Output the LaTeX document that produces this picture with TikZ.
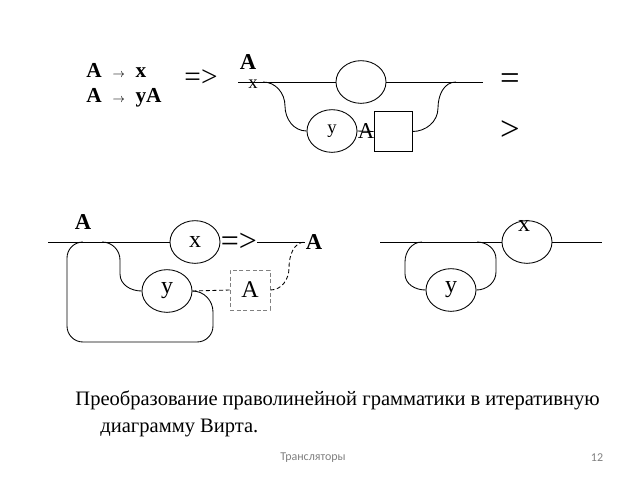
\documentclass[tikz,border=0pt]{standalone}
\usepackage{fontspec}
\setmainfont{Liberation Serif}
\newfontfamily\footfont{Carlito}
\usetikzlibrary{shapes.geometric}
\tikzset{
  term/.style={ellipse,draw,inner sep=0pt,minimum width=37.5pt,minimum height=32pt,
    font=\fontsize{18}{20}\selectfont},
  nterm/.style={draw,inner sep=0pt,minimum width=28.5pt,minimum height=30.5pt},
  boldA/.style={inner sep=0pt,font=\bfseries\fontsize{17}{19}\selectfont},
  rule/.style={anchor=west,inner sep=0pt,font=\bfseries\fontsize{16}{18}\selectfont},
  conv/.style={inner sep=0pt,font=\fontsize{22}{24}\selectfont},
  caption/.style={anchor=west,inner sep=0pt,font=\fontsize{15.4}{17}\selectfont}
}
\begin{document}
\begin{tikzpicture}[x=0.75pt,y=-0.75pt,line width=0.65pt]
  \useasboundingbox (0,0) rectangle (640,480);

  % rules
  \node[rule] (r1) at (86,70) {A\ \ {\normalfont\small$\rightarrow$}\ \ x};
  \node[rule] (r2) at (86,98) {A\ \ {\normalfont\small$\rightarrow$}\ \ yA};
  \node[conv] (c1) at (201,78) {=>};

  % first diagram
  \node[boldA] (tA) at (248,62) {A};
  \node[inner sep=0pt,font=\fontsize{14}{16}\selectfont] (tx) at (253,84) {x};
  \coordinate (t0) at (238,82);
  \coordinate (t1) at (483,82);
  \node[term] (e0) at (361,82) {};
  \node[term,font=\fontsize{14}{16}\selectfont] (ey) at (332,131) {y};
  \node[nterm] (bx) at (393,131.5) {};
  \node[inner sep=0pt,font=\fontsize{17}{19}\selectfont] (la) at (366,131) {A};
  \draw (t0) -- (e0.west);
  \draw (e0.east) -- (t1);
  \draw (263,82) to[out=0,in=90] (285,106) to[out=-90,in=180] (ey.west);
  \draw (ey.east) -- (bx.west);
  \draw (bx.east) to[out=0,in=-90] (438,108) to[out=90,in=180] (456,82);
  \node[inner sep=0pt,font=\fontsize{26}{28}\selectfont] (eq) at (510,82) {=};
  \node[inner sep=0pt,font=\fontsize{26}{28}\selectfont] (gt) at (510,131) {>};

  % second diagram
  \coordinate (s0) at (48,242);
  \node[boldA] (sA) at (83,222) {A};
  \node[term] (sx) at (195,242) {x};
  \node[conv,anchor=west,font=\fontsize{24}{26}\selectfont] (c2) at (sx.east) {=>};
  \node[boldA] (eA) at (314,242) {A};
  \node[term] (sy) at (167,291) {y};
  \node[draw,densely dashed,gray,minimum width=30pt,minimum height=30pt,inner sep=0pt,
    font=\fontsize{18}{20}\selectfont,text=black] (dA) at (250,290) {A};
  \draw (s0) -- (sx.west);
  \draw (c2.east) -- (eA.west);
  \draw (102,242) to[out=0,in=90] (120,260) -- (120,274) to[out=-90,in=180] (sy.west);
  \draw (sy.east) to[out=0,in=90] (213,312) -- (213,326) to[out=-90,in=0] (197,342)
    -- (83,342) to[out=180,in=-90] (67,326) -- (67,258) to[out=90,in=180] (83,242);
  \draw[densely dashed] (sy.east) -- (dA.west);
  \draw[densely dashed] (dA.east) to[out=0,in=-90] (289,268) to[out=90,in=180] (eA.west);

  % third diagram
  \coordinate (u0) at (380,242);
  \coordinate (u1) at (602,242);
  \node[term] (ux) at (527,242) {};
  \node[inner sep=0pt,font=\fontsize{18}{20}\selectfont] (uxt) at (524,226) {x};
  \node[term] (uy) at (451,290) {y};
  \draw (u0) -- (ux.west);
  \draw (ux.east) -- (u1);
  \draw (422,242) to[out=180,in=90] (405,262) -- (405,274) to[out=-90,in=180] (uy.west);
  \draw (uy.east) to[out=0,in=-90] (496,272) -- (496,259) to[out=90,in=0] (477,242);

  % caption
  \node[caption] (cap1) at (75,400) {Преобразование праволинейной грамматики в итеративную};
  \node[caption] (cap2) at (100,428) {диаграмму Вирта.};
  \node[gray,inner sep=0pt,font=\footfont\fontsize{9}{10}\selectfont] (ft) at (313,458) {Трансляторы};
  \node[gray,inner sep=0pt,font=\footfont\fontsize{9}{10}\selectfont] (pg) at (597,458) {12};
\end{tikzpicture}
\end{document}
